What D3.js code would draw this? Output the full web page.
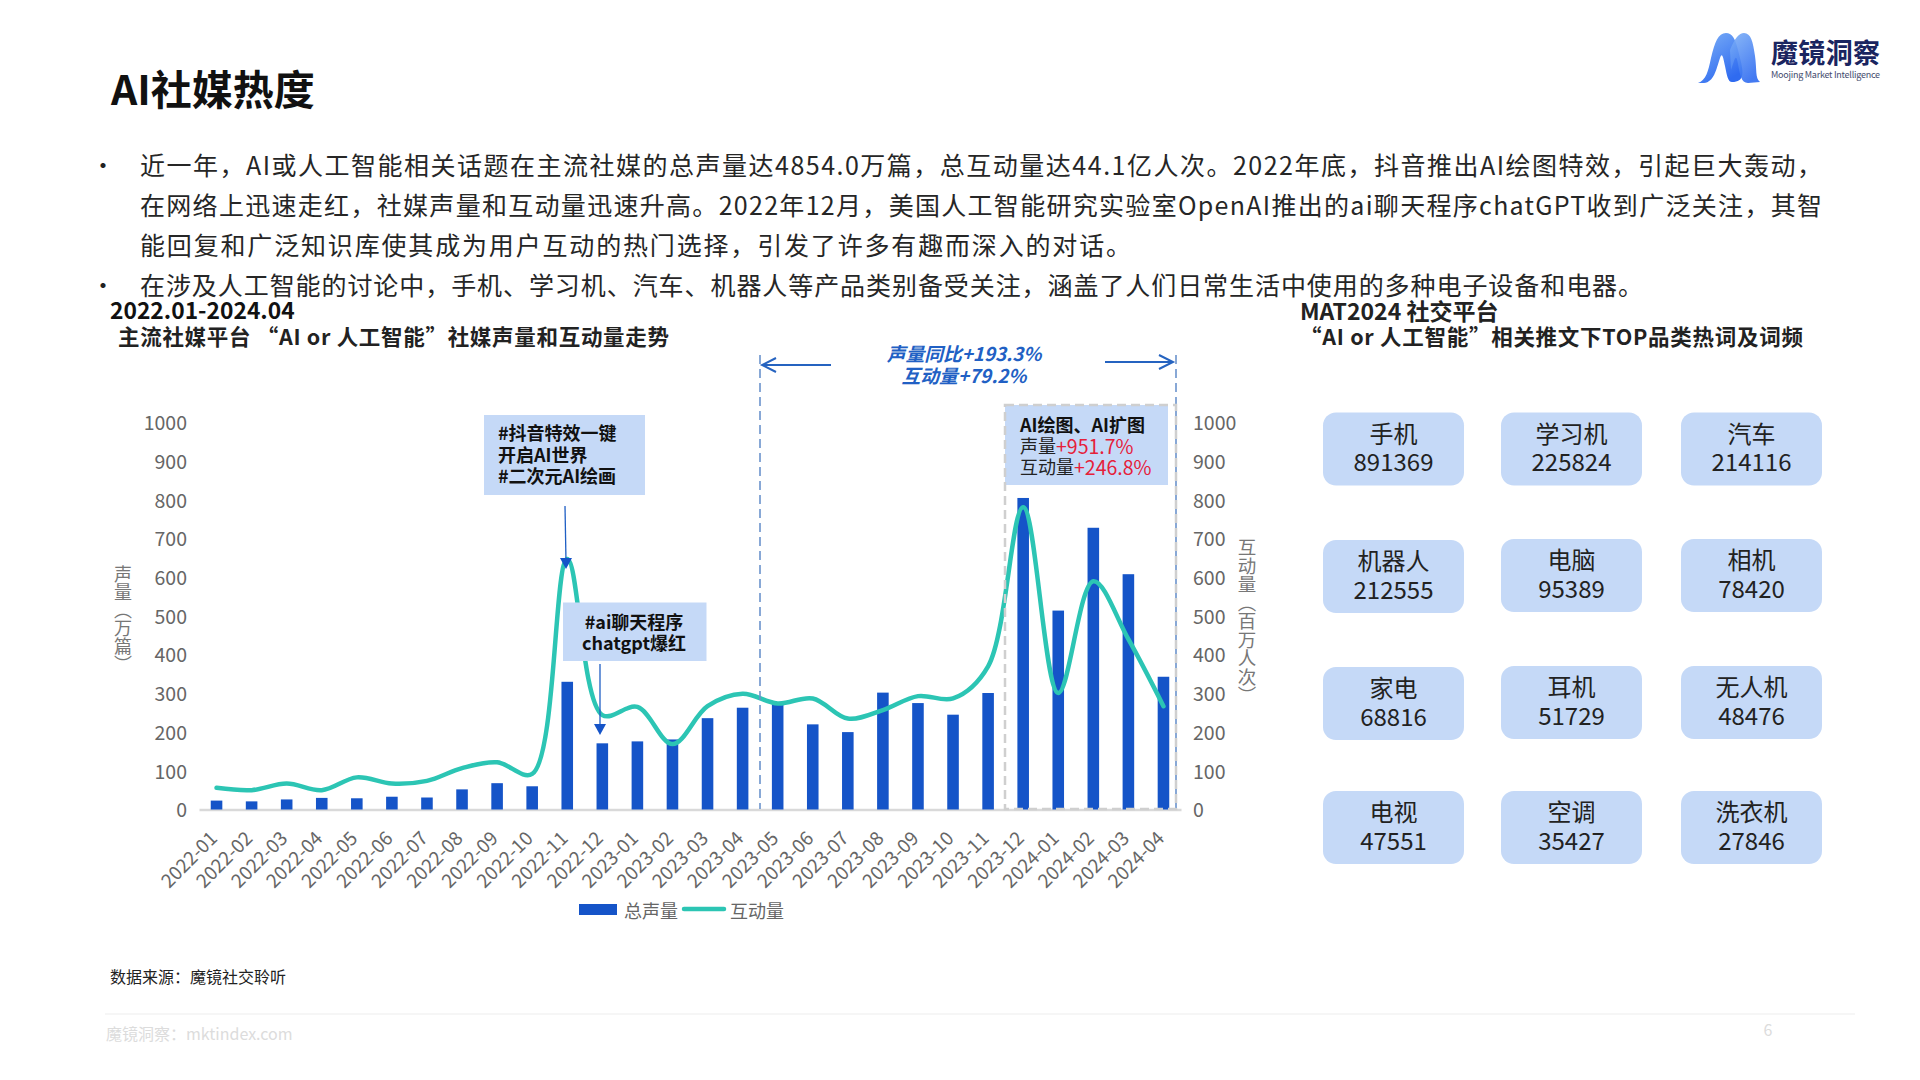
<!DOCTYPE html>
<html>
<head>
<meta charset="utf-8">
<script src="https://cdn.jsdelivr.net/npm/d3@7"></script>
<style>
  html, body { margin: 0; padding: 0; background: #fff; }
  svg { display: block; }
  text { font-family: "Noto Sans CJK SC", "Noto Sans", sans-serif; }
</style>
</head>
<body>
<div id="slide"></div>
<script>
var months = ["2022-01","2022-02","2022-03","2022-04","2022-05","2022-06","2022-07","2022-08","2022-09","2022-10","2022-11","2022-12",
  "2023-01","2023-02","2023-03","2023-04","2023-05","2023-06","2023-07","2023-08","2023-09","2023-10","2023-11","2023-12",
  "2024-01","2024-02","2024-03","2024-04"];
var soundVolume = [23,21,26,30,29,33,31,52,68,60,330,171,176,181,236,263,275,220,200,302,275,245,301,805,514,728,608,343];
var engagement = [56,50,67,50,83,67,74,107,122,92,647,244,265,169,267,299,274,287,235,257,293,287,370,781,301,590,440,267];
var yTicks = [0,100,200,300,400,500,600,700,800,900,1000];

var tileNames = ["手机","学习机","汽车","机器人","电脑","相机","家电","耳机","无人机","电视","空调","洗衣机"];
var tileCounts = [891369,225824,214116,212555,95389,78420,68816,51729,48476,47551,35427,27846];

var bulletLines = [
  {text: "近一年，AI或人工智能相关话题在主流社媒的总声量达4854.0万篇，总互动量达44.1亿人次。2022年底，抖音推出AI绘图特效，引起巨大轰动，", end: 1822, bullet: true},
  {text: "在网络上迅速走红，社媒声量和互动量迅速升高。2022年12月，美国人工智能研究实验室OpenAI推出的ai聊天程序chatGPT收到广泛关注，其智", end: 1822},
  {text: "能回复和广泛知识库使其成为用户互动的热门选择，引发了许多有趣而深入的对话。", end: 1131},
  {text: "在涉及人工智能的讨论中，手机、学习机、汽车、机器人等产品类别备受关注，涵盖了人们日常生活中使用的多种电子设备和电器。", end: 1643, bullet: true}
];

var svg = d3.select("#slide").append("svg")
  .attr("width", 1920)
  .attr("height", 1080);

var defs = svg.append("defs");
var logoGrad = defs.append("linearGradient").attr("id", "logoGrad")
  .attr("x1", 0).attr("y1", 0).attr("x2", 0.6).attr("y2", 1);
logoGrad.append("stop").attr("offset", "0%").attr("stop-color", "#7fb2f7");
logoGrad.append("stop").attr("offset", "100%").attr("stop-color", "#2f6bf0");

function addText(x, y, str, size, color, weight, anchor) {
  return svg.append("text")
    .attr("x", x)
    .attr("y", y - 1.5)
    .attr("dominant-baseline", "central")
    .attr("font-size", size)
    .attr("fill", color)
    .attr("font-weight", weight || 400)
    .attr("text-anchor", anchor || "start")
    .text(str);
}

// title + bullets
addText(111, 88, "AI社媒热度", 41, "#111", 700);

var lineY = [165, 205.5, 245, 285];
bulletLines.forEach(function(d, i) {
  if (d.bullet) addText(91, lineY[i], "•", 24, "#222");
  addText(140, lineY[i], d.text, 25, "#262626")
    .attr("textLength", d.end - 140)
    .attr("lengthAdjust", "spacing");
});

// sub titles
addText(110, 311, "2022.01-2024.04", 22.8, "#111", 700);
addText(118, 337, "主流社媒平台 “AI or 人工智能”社媒声量和互动量走势", 21.5, "#222", 700)
  .attr("textLength", 551).attr("lengthAdjust", "spacing");
addText(1300, 311, "MAT2024 社交平台", 23, "#222", 700);
addText(1300, 337, "“AI or 人工智能”相关推文下TOP品类热词及词频", 21.5, "#222", 700)
  .attr("textLength", 503).attr("lengthAdjust", "spacing");

// chart
var x = d3.scaleBand().domain(months).range([199, 1181]).paddingInner(0.67).paddingOuter(0.335);
var y = d3.scaleLinear().domain([0, 1000]).range([809.5, 422.5]);
var y2 = d3.scaleLinear().domain([0, 1000]).range([809.5, 422.5]);

var xAxis = svg.append("g")
  .attr("transform", "translate(0,809.5)")
  .call(d3.axisBottom(x).tickSize(0));
xAxis.select(".domain").attr("stroke", "#d9d9d9").attr("stroke-width", 2.5);
xAxis.selectAll("text")
  .attr("font-size", 19)
  .attr("fill", "#666")
  .attr("font-family", '"Noto Sans CJK SC", sans-serif')
  .attr("text-anchor", "end")
  .attr("dominant-baseline", "central")
  .attr("x", 0)
  .attr("y", 0)
  .attr("dy", 0)
  .attr("transform", "translate(-4,24) rotate(-45)");

var yLeft = svg.append("g")
  .attr("transform", "translate(187,1)")
  .call(d3.axisLeft(y).tickValues(yTicks).tickFormat(d3.format("d")).tickSize(0).tickPadding(0));
var yRight = svg.append("g")
  .attr("transform", "translate(1193,1)")
  .call(d3.axisRight(y2).tickValues(yTicks).tickFormat(d3.format("d")).tickSize(0).tickPadding(0));
[yLeft, yRight].forEach(function(g) {
  g.select(".domain").remove();
  g.selectAll("text")
    .attr("font-size", 19.5)
    .attr("fill", "#666")
    .attr("font-family", '"Noto Sans CJK SC", sans-serif');
});

svg.append("g").selectAll("rect")
  .data(soundVolume)
  .enter()
  .append("rect")
  .attr("x", function(d, i) { return x(months[i]); })
  .attr("width", x.bandwidth())
  .attr("y", function(d) { return y(d); })
  .attr("height", function(d) { return y(0) - y(d); })
  .attr("fill", "#1554c8");

var engagementLine = d3.line()
  .x(function(d, i) { return x(months[i]) + x.bandwidth() / 2; })
  .y(function(d) { return y2(d); })
  .curve(d3.curveCatmullRom.alpha(0.5));

svg.append("path")
  .datum(engagement)
  .attr("d", engagementLine)
  .attr("fill", "none")
  .attr("stroke", "#2cc5b4")
  .attr("stroke-width", 4.5)
  .attr("stroke-linecap", "round")
  .attr("stroke-linejoin", "round");

// axis titles
function addVertical(px, py, str, size) {
  svg.append("text")
    .attr("x", px)
    .attr("y", py)
    .attr("font-size", size)
    .attr("fill", "#777")
    .style("writing-mode", "vertical-rl")
    .text(str);
}
addVertical(123, 565, "声量（万篇）", 18);
addVertical(1247, 538, "互动量（百万人次）", 18.5);

// legend
svg.append("rect").attr("x", 579).attr("y", 904).attr("width", 38).attr("height", 11).attr("fill", "#1554c8");
addText(624, 911, "总声量", 18, "#666");
svg.append("line").attr("x1", 684).attr("x2", 724).attr("y1", 909).attr("y2", 909)
  .attr("stroke", "#2cc5b4").attr("stroke-width", 4.5).attr("stroke-linecap", "round");
addText(730, 911, "互动量", 18, "#666");

// dashed range + period arrows
[760, 1176].forEach(function(px) {
  svg.append("line").attr("x1", px).attr("x2", px).attr("y1", 355).attr("y2", 809)
    .attr("stroke", "#6b93cc").attr("stroke-width", 1.6).attr("stroke-dasharray", "9 5");
});

function openArrow(x1, x2, py) {
  var dir = x2 > x1 ? -1 : 1;
  svg.append("path")
    .attr("d", "M" + x1 + "," + py + "L" + x2 + "," + py + "M" + (x2 + dir * 14) + "," + (py - 7) + "L" + x2 + "," + py + "L" + (x2 + dir * 14) + "," + (py + 7))
    .attr("fill", "none").attr("stroke", "#2563c0").attr("stroke-width", 2);
}
openArrow(831, 762, 365);
openArrow(1105, 1173, 362);
addText(964, 354, "声量同比+193.3%", 18.8, "#2160c4", 700, "middle").attr("font-style", "italic");
addText(964, 376, "互动量+79.2%", 18.8, "#2160c4", 700, "middle").attr("font-style", "italic");

// annotation boxes
var boxFill = "#c5d9f7";
svg.append("rect").attr("x", 1005).attr("y", 405).attr("width", 163).attr("height", 80).attr("fill", boxFill);
svg.append("rect").attr("x", 1005).attr("y", 405).attr("width", 171).attr("height", 404)
  .attr("fill", "none").attr("stroke", "#cfcfcf").attr("stroke-width", 2.5).attr("stroke-dasharray", "9 5");
addText(1020, 425.5, "AI绘图、AI扩图", 18, "#111", 700);
var t1 = addText(1020, 446, "声量", 18, "#222");
t1.append("tspan").attr("fill", "#e5203a").attr("font-size", 19.5).text("+951.7%");
var t2 = addText(1020, 467, "互动量", 18, "#222");
t2.append("tspan").attr("fill", "#e5203a").attr("font-size", 19.5).text("+246.8%");

svg.append("rect").attr("x", 484).attr("y", 415).attr("width", 161).attr("height", 80).attr("fill", boxFill);
addText(498, 433.5, "#抖音特效一键", 18, "#111", 700);
addText(498, 455, "开启AI世界", 18, "#111", 700);
addText(498, 476, "#二次元AI绘画", 18, "#111", 700);

svg.append("rect").attr("x", 563).attr("y", 602.5).attr("width", 143.5).attr("height", 58.5).attr("fill", boxFill);
addText(634, 622, "#ai聊天程序", 18, "#111", 700, "middle");
addText(634, 643, "chatgpt爆红", 18, "#111", 700, "middle");

function solidArrow(x1, y1, x2, y2) {
  svg.append("line").attr("x1", x1).attr("y1", y1).attr("x2", x2).attr("y2", y2 - 8)
    .attr("stroke", "#1f5fc4").attr("stroke-width", 1.3);
  svg.append("path")
    .attr("d", "M" + (x2 - 6) + "," + (y2 - 11) + "L" + (x2 + 6) + "," + (y2 - 11) + "L" + x2 + "," + y2 + "Z")
    .attr("fill", "#1554c8");
}
solidArrow(565, 506, 566, 569);
solidArrow(600, 664, 600, 735);

// top category tiles
var colX = [1323, 1501, 1681];
var tileW = 141;
var rowTop = [412.5, 539, 666, 791];
var tileH = 73;
tileNames.forEach(function(name, i) {
  var col = i % 3, row = Math.floor(i / 3);
  var offset = (col === 0 && row > 0 && row < 3) ? 1 : 0;
  var top = rowTop[row] + offset;
  svg.append("rect")
    .attr("x", colX[col])
    .attr("y", top)
    .attr("width", tileW)
    .attr("height", tileH)
    .attr("rx", 13)
    .attr("fill", boxFill);
  addText(colX[col] + tileW / 2, top + 21, name, 24, "#222", 400, "middle");
  addText(colX[col] + tileW / 2, top + 49.5, tileCounts[i], 24, "#222", 400, "middle");
});

// logo
var logo = svg.append("g").attr("fill", "url(#logoGrad)");
logo.append("path").attr("d", "M1698,83 C1706,80 1708,72 1711,58 C1715,42 1718,33 1726,33 C1732,33 1735,38 1738,50 L1741,62 C1743,72 1745,82 1732,82 C1728,82 1727,76 1725,66 C1723,56 1722,52 1720,58 C1716,70 1714,82 1704,83 Z");
logo.append("path").attr("d", "M1730,50 C1735,38 1739,33 1744,33 C1751,33 1753,42 1755,56 C1757,70 1755,78 1760,82 L1748,83 C1741,83 1740,74 1738,64 C1737,58 1736,55 1734,61 L1731,70 Z").attr("opacity", 0.9);
addText(1771, 53, "魔镜洞察", 27, "#1a2560", 700).attr("textLength", 109).attr("lengthAdjust", "spacing");
addText(1771, 76, "Moojing Market Intelligence", 9, "#444b6e").attr("textLength", 109).attr("lengthAdjust", "spacing");

// footer
addText(110, 977, "数据来源：魔镜社交聆听", 16, "#222");
svg.append("line").attr("x1", 105).attr("x2", 1855).attr("y1", 1014).attr("y2", 1014)
  .attr("stroke", "#f3f3f3").attr("stroke-width", 1.5);
addText(106, 1034, "魔镜洞察：mktindex.com", 16, "#dcdcdc");
addText(1768, 1030, "6", 16, "#dcdcdc", 400, "middle");
</script>
</body>
</html>
